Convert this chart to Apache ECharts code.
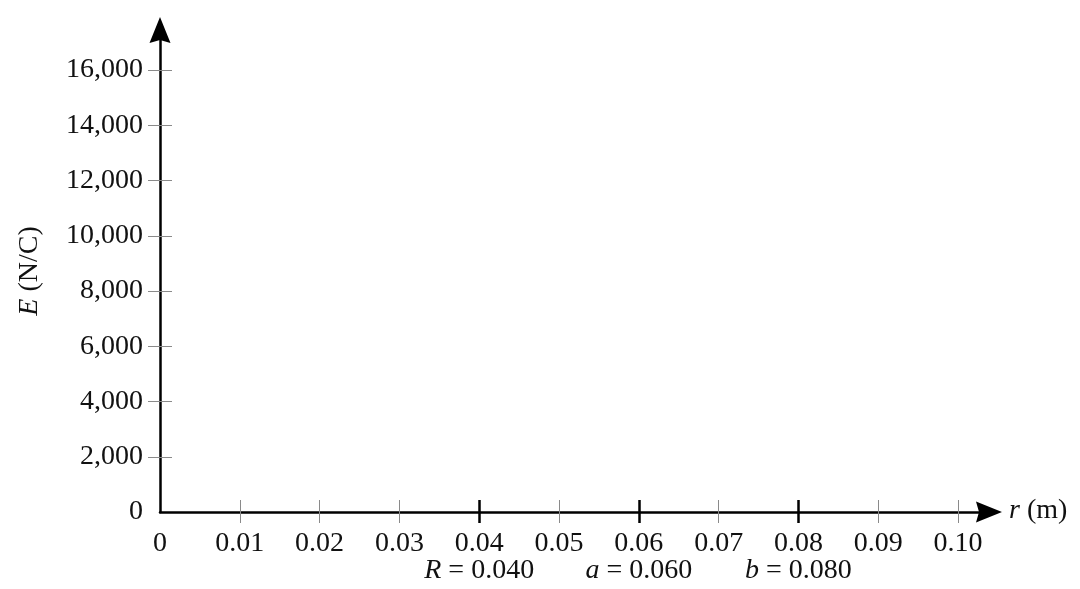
<!DOCTYPE html>
<html>
<head>
<meta charset="utf-8">
<script src="https://cdn.jsdelivr.net/npm/echarts@6/dist/echarts.min.js"></script>
<style>
html,body{margin:0;padding:0;background:#fff;}
#chart{width:1080px;height:589px;}
</style>
</head>
<body>
<div id="chart"></div>
<script>
// ---- data ----
const xTickValues = [0, 0.01, 0.02, 0.03, 0.04, 0.05, 0.06, 0.07, 0.08, 0.09, 0.10];
const xTickLabels = ['0', '0.01', '0.02', '0.03', '0.04', '0.05', '0.06', '0.07', '0.08', '0.09', '0.10'];
const xMinorTicks = [0.01, 0.02, 0.03, 0.05, 0.07, 0.09, 0.10];
const xMajorTicks = [0.04, 0.06, 0.08];
const xMajorNotes = ['{i|R} = 0.040', '{i|a} = 0.060', '{i|b} = 0.080'];
const yTickValues = [0, 2000, 4000, 6000, 8000, 10000, 12000, 14000, 16000];
const yTickLabels = ['0', '2,000', '4,000', '6,000', '8,000', '10,000', '12,000', '14,000', '16,000'];
const yMinorTicks = [2000, 4000, 6000, 8000, 10000, 12000, 14000, 16000];
const xName = '{i|r} (m)';
const yName = '{i|E} (N/C)';
const xMin = 0, xMax = 0.10388;
const yMin = 0, yMax = 17450;

// ---- style ----
const FONT = "'Liberation Serif', 'Times New Roman', serif";
const FS = 28;
const TXT = '#111';
const GRAY = '#8a8a8a';
const ARROW = 'path://M10.5,0L21,26L10.5,23L0,26Z';
const italicRich = { i: { fontStyle: 'italic', fontFamily: FONT, fontSize: FS, color: TXT } };

function lookup(vals, labels, v) {
  for (let i = 0; i < vals.length; i++) if (Math.abs(vals[i] - v) < 1e-9) return labels[i];
  return '';
}

const gridBox = { left: 160, right: 91, top: 30, bottom: 77 };
const grids = [0, 1, 2, 3].map(() => Object.assign({}, gridBox));

function baseX(i) {
  return {
    type: 'value', gridIndex: i, min: xMin, max: xMax,
    splitLine: { show: false },
    axisLine: { show: false },
    axisTick: { show: false },
    axisLabel: { show: false }
  };
}
function baseY(i) {
  return {
    type: 'value', gridIndex: i, min: yMin, max: yMax,
    splitLine: { show: false },
    axisLine: { show: false },
    axisTick: { show: false },
    axisLabel: { show: false }
  };
}

const xAxes = [
  Object.assign(baseX(0), {
    name: xName, nameLocation: 'end', nameGap: 20,
    nameTextStyle: { fontFamily: FONT, fontSize: FS, color: TXT, rich: italicRich, verticalAlign: 'middle', padding: [0, 0, 2, 0] },
    axisLine: { show: true, symbol: ['none', ARROW], symbolSize: [21, 26], lineStyle: { color: '#000', width: 2.5 } },
    axisTick: { show: true, customValues: xMinorTicks, inside: false, length: 11, lineStyle: { color: GRAY, width: 1 } },
    axisLabel: {
      show: true, customValues: xTickValues, margin: 18,
      fontFamily: FONT, fontSize: FS, color: TXT,
      formatter: v => lookup(xTickValues, xTickLabels, v)
    }
  }),
  Object.assign(baseX(1), {
    axisTick: { show: true, customValues: xMinorTicks, inside: true, length: 12, lineStyle: { color: GRAY, width: 1 } }
  }),
  Object.assign(baseX(2), {
    axisTick: { show: true, customValues: xMajorTicks, inside: false, length: 11, lineStyle: { color: '#000', width: 2.5 } },
    axisLabel: {
      show: true, customValues: xMajorTicks, margin: 45,
      fontFamily: FONT, fontSize: FS, color: TXT, rich: italicRich,
      formatter: v => lookup(xMajorTicks, xMajorNotes, v)
    }
  }),
  Object.assign(baseX(3), {
    axisTick: { show: true, customValues: xMajorTicks, inside: true, length: 12, lineStyle: { color: '#000', width: 2.5 } }
  })
];

const yAxes = [
  Object.assign(baseY(0), {
    name: yName, nameLocation: 'middle', nameRotate: 90, nameGap: 116,
    nameTextStyle: { fontFamily: FONT, fontSize: FS, color: TXT, rich: italicRich },
    axisLine: { show: true, symbol: ['none', ARROW], symbolSize: [21, 26], lineStyle: { color: '#000', width: 2.5 } },
    axisTick: { show: true, customValues: yMinorTicks, inside: false, length: 12, lineStyle: { color: GRAY, width: 1 } },
    axisLabel: {
      show: true, customValues: yTickValues, margin: 17,
      fontFamily: FONT, fontSize: FS, color: TXT,
      formatter: v => lookup(yTickValues, yTickLabels, v)
    }
  }),
  Object.assign(baseY(1), {
    axisTick: { show: true, customValues: yMinorTicks, inside: true, length: 12, lineStyle: { color: GRAY, width: 1 } }
  }),
  Object.assign(baseY(2), { show: false }),
  Object.assign(baseY(3), { show: false })
];

const chart = echarts.init(document.getElementById('chart'), null, { renderer: 'canvas' });
chart.setOption({
  animation: false,
  backgroundColor: '#fff',
  grid: grids,
  xAxis: xAxes,
  yAxis: yAxes,
  series: []
});
</script>
</body>
</html>
